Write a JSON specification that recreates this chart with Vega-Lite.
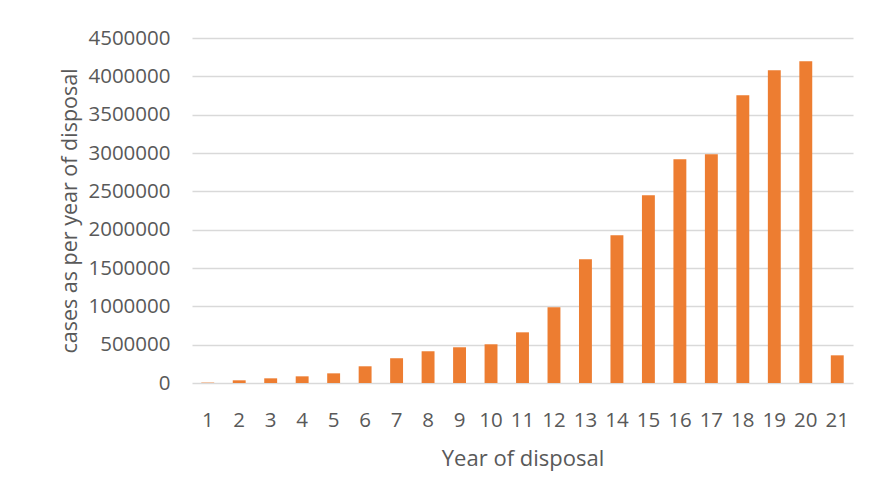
{
  "$schema": "https://vega.github.io/schema/vega-lite/v6.json",
  "autosize": "none",
  "width": 661,
  "height": 345,
  "padding": {"left": 192, "top": 38, "right": 17, "bottom": 113},
  "background": "white",
  "data": {"values": [
    {"year": 1, "cases": 5000},
    {"year": 2, "cases": 35000},
    {"year": 3, "cases": 61000},
    {"year": 4, "cases": 87000},
    {"year": 5, "cases": 126000},
    {"year": 6, "cases": 218000},
    {"year": 7, "cases": 323000},
    {"year": 8, "cases": 414000},
    {"year": 9, "cases": 466000},
    {"year": 10, "cases": 505000},
    {"year": 11, "cases": 661000},
    {"year": 12, "cases": 987000},
    {"year": 13, "cases": 1613000},
    {"year": 14, "cases": 1926000},
    {"year": 15, "cases": 2448000},
    {"year": 16, "cases": 2918000},
    {"year": 17, "cases": 2983000},
    {"year": 18, "cases": 3752000},
    {"year": 19, "cases": 4079000},
    {"year": 20, "cases": 4196000},
    {"year": 21, "cases": 361000}
  ]},
  "mark": {"type": "bar", "color": "#ED7D31"},
  "encoding": {
    "x": {
      "field": "year", "type": "ordinal",
      "scale": {"paddingInner": 0.59, "paddingOuter": 0.295},
      "axis": {
        "title": "Year of disposal",
        "labelAngle": 0,
        "domain": false, "ticks": false,
        "labelPadding": 27,
        "labelFont": "Open Sans", "labelFontSize": 20.5, "labelColor": "#595959",
        "titleFont": "Open Sans", "titleFontSize": 22, "titleFontWeight": "normal", "titleColor": "#595959",
        "titlePadding": 18
      }
    },
    "y": {
      "field": "cases", "type": "quantitative",
      "scale": {"domain": [0, 4500000], "nice": false},
      "axis": {
        "title": "cases as per year of disposal",
        "values": [0, 500000, 1000000, 1500000, 2000000, 2500000, 3000000, 3500000, 4000000, 4500000],
        "format": "d",
        "domain": false, "ticks": false,
        "labelPadding": 22,
        "grid": true, "gridColor": "#d9d9d9", "gridWidth": 1.5,
        "labelFont": "Open Sans", "labelFontSize": 20.5, "labelColor": "#595959",
        "titleFont": "Open Sans", "titleFontSize": 21.5, "titleFontWeight": "normal", "titleColor": "#595959",
        "titlePadding": 6
      }
    }
  },
  "config": {"view": {"stroke": null}}
}
